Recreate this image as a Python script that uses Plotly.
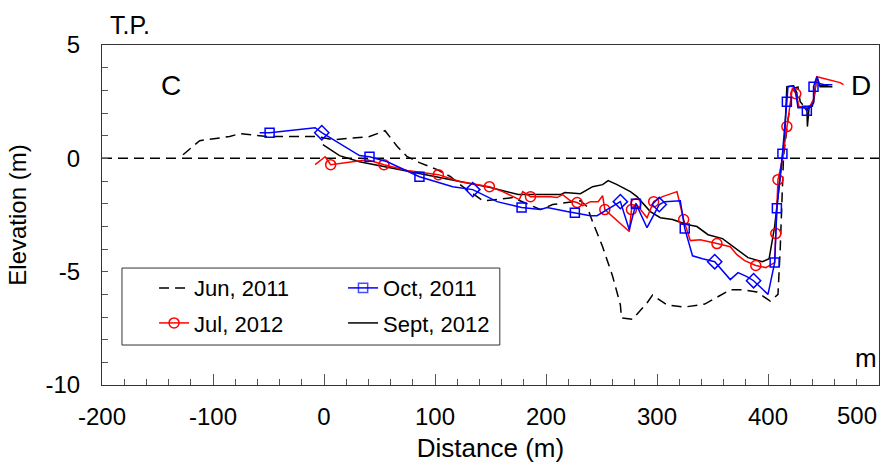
import plotly.graph_objects as go

# ---------------- data ----------------
jun2011_x = [-127, -112, -85, -76, -51, -6, 8, 41, 55, 66,
             75, 86, 102, 114, 125, 143, 156, 170, 195, 206,
             231, 237, 242, 251, 260, 267, 268, 278, 291, 296,
             309, 325, 343, 366, 377, 390, 402, 409, 411, 413,
             414, 418, 422, 424, 427, 429, 434, 440, 443, 447,
             458]
jun2011_y = [0.16, 0.78, 0.96, 1.09, 0.96, 0.96, 0.82, 0.96, 1.22, 0.52,
             0.07, -0.19, -0.50, -0.81, -1.25, -1.87, -1.82, -1.73, -2.26, -2.04,
             -1.87, -2.13, -2.80, -3.90, -5.20, -6.46, -7.04, -7.10, -6.38, -6.03,
             -6.47, -6.56, -6.43, -5.80, -5.80, -5.90, -6.30, -6.00, -4.00, -1.40,
             0.10, 1.70, 2.90, 3.10, 3.15, 2.50, 2.20, 2.30, 3.30, 3.20,
             3.20]

oct2011_x = [-58, -49, -8, -2, 32, 41, 57, 68, 86, 116,
             134, 156, 178, 195, 201, 219, 226, 240, 246, 255,
             267, 275, 281, 291, 302, 307, 321, 325, 332, 341,
             352, 366, 373, 381, 387, 400, 406, 408, 413, 417,
             418, 423, 425, 427, 433, 435, 441, 441, 444, 446,
             451, 458]
oct2011_y = [1.13, 1.13, 1.35, 1.13, 0.12, 0.07, -0.15, -0.41, -0.81, -1.25,
             -1.38, -1.91, -2.17, -2.26, -2.17, -2.35, -2.40, -2.53, -2.53, -2.26,
             -1.91, -3.15, -2.00, -3.06, -2.04, -1.91, -1.87, -3.10, -4.30, -4.43,
             -4.56, -5.35, -5.04, -5.22, -5.40, -6.00, -4.60, -2.20, 0.20, 2.50,
             3.16, 3.20, 2.90, 2.23, 2.23, 2.10, 2.45, 3.16, 3.60, 3.30,
             3.25, 3.25]
# marker kind at each surveyed point: "" = none, "s" = square, "d" = diamond
oct2011_mark = ["", "s", "", "d", "", "s", "", "", "s", "",
                "d", "", "s", "", "", "", "s", "", "", "",
                "d", "", "s", "", "d", "", "", "s", "", "",
                "d", "", "", "", "d", "", "s", "s", "s", "s",
                "", "", "", "", "", "s", "", "s", "", "",
                "", ""]

jul2012_x = [-8, 1, 6, 21, 39, 54, 75, 103, 123, 149,
             161, 176, 179, 186, 204, 210, 215, 222, 228, 233,
             240, 247, 251, 253, 275, 277, 281, 291, 297, 305,
             318, 324, 330, 339, 345, 354, 366, 372, 379, 389,
             398, 406, 407, 409, 413, 417, 420, 422, 425, 428,
             434, 438, 441, 444, 465, 468]
jul2012_y = [-0.28, 0.07, -0.28, -0.19, -0.06, -0.28, -0.54, -0.72, -1.03, -1.25,
             -1.47, -1.82, -1.47, -1.69, -1.69, -1.73, -1.60, -1.87, -1.95, -2.09,
             -1.91, -1.91, -1.65, -2.26, -3.23, -2.26, -2.00, -2.62, -1.91, -1.69,
             -1.47, -2.70, -3.63, -3.59, -3.67, -3.76, -3.90, -4.25, -4.51, -4.73,
             -4.82, -4.60, -3.32, -0.94, -0.06, 1.40, 2.59, 3.12, 2.85, 2.28,
             2.23, 2.32, 2.60, 3.60, 3.34, 3.25]
# 1 = circle marker drawn at that point
jul2012_mark = [0, 0, 1, 0, 0, 1, 0, 1, 0, 1,
                0, 0, 0, 1, 0, 0, 0, 0, 1, 0,
                0, 0, 0, 1, 0, 1, 1, 0, 1, 0,
                0, 1, 0, 0, 0, 1, 0, 0, 0, 1,
                0, 0, 1, 1, 0, 1, 0, 0, 1, 0,
                0, 0, 0, 0, 0, 0]

sep2012_x = [-1, 14, 32, 59, 91, 120, 150, 175, 195, 213,
             217, 231, 242, 251, 256, 264, 276, 282, 294, 303,
             314, 327, 336, 346, 359, 372, 382, 395, 401, 406,
             413, 415, 417, 423, 426, 427, 435, 435.5, 437, 441,
             444, 447, 458]
sep2012_y = [0.60, 0.12, -0.15, -0.41, -0.72, -1.03, -1.29, -1.60, -1.60, -1.60,
             -1.51, -1.56, -1.25, -1.16, -0.98, -1.16, -1.47, -1.69, -2.35, -2.62,
             -2.70, -2.92, -3.01, -3.37, -3.54, -4.03, -4.38, -4.56, -4.43, -3.00,
             -0.06, 0.96, 3.16, 3.20, 2.90, 2.28, 2.23, 1.40, 2.23, 2.45,
             3.60, 3.16, 3.16]

x_ticks = [-200, -100, 0, 100, 200, 300, 400, 500]
x_tick_labels = ["-200", "-100", "0", "100", "200", "300", "400", "500"]
y_ticks = [-10, -5, 0, 5]

# ---------------- figure ----------------
FONT = "Arial, Liberation Sans, sans-serif"
BLUE = "#0000FF"
RED = "#FF0000"

oct_sym = ["diamond-open" if m == "d" else "square-open" for m in oct2011_mark]
oct_size = [11 if m == "d" else 9 for m in oct2011_mark]
oct_sel = [i for i, m in enumerate(oct2011_mark) if m]
jul_sel = [i for i, m in enumerate(jul2012_mark) if m]

# the last x label sits flush against the figure's right edge (drawn to the
# left of its tick), so it is placed as a right-anchored annotation
x_tick_text = list(x_tick_labels[:-1]) + [""]

fig = go.Figure()

fig.add_trace(go.Scatter(
    x=jun2011_x, y=jun2011_y, mode="lines", name="Jun, 2011",
    line=dict(color="black", width=1.5, dash="10px,6px"),
    legend="legend", legendrank=1))

fig.add_trace(go.Scatter(
    x=sep2012_x, y=sep2012_y, mode="lines", name="Sept, 2012",
    line=dict(color="black", width=1.5),
    legend="legend2", legendrank=2))

fig.add_trace(go.Scatter(
    x=jul2012_x, y=jul2012_y, mode="lines+markers", name="Jul, 2012",
    line=dict(color=RED, width=1.5),
    marker=dict(symbol="circle-open", size=10, color=RED,
                line=dict(color=RED, width=1.5)),
    selectedpoints=jul_sel,
    selected=dict(marker=dict(opacity=1)),
    unselected=dict(marker=dict(opacity=0)),
    legend="legend2", legendrank=1))

fig.add_trace(go.Scatter(
    x=oct2011_x, y=oct2011_y, mode="lines+markers", name="Oct, 2011",
    line=dict(color=BLUE, width=1.5),
    marker=dict(symbol=oct_sym, size=oct_size, color=BLUE,
                line=dict(color=BLUE, width=1.5)),
    selectedpoints=oct_sel,
    selected=dict(marker=dict(opacity=1)),
    unselected=dict(marker=dict(opacity=0)),
    legend="legend", legendrank=2))

# zero reference line
fig.add_shape(type="line", xref="paper", yref="y", x0=0, x1=1, y0=0, y1=0,
              line=dict(color="black", width=1.5, dash="10px,6px"), layer="below")

# legend frame
fig.add_shape(type="rect", xref="paper", yref="paper",
              x0=0.0257, x1=0.512, y0=0.1176, y1=0.344,
              line=dict(color="#333333", width=1), fillcolor="white", layer="below")

leg_common = dict(orientation="h", xanchor="left", yanchor="middle",
                  bgcolor="rgba(0,0,0,0)", borderwidth=0,
                  font=dict(family=FONT, size=22, color="black"),
                  entrywidth=144, entrywidthmode="pixels",
                  traceorder="normal")

fig.update_layout(
    width=882, height=464,
    margin=dict(l=102, r=3, t=45, b=79, autoexpand=False),
    paper_bgcolor="white", plot_bgcolor="white",
    font=dict(family=FONT, size=24, color="black"),
    legend=dict(x=0.067, y=0.285, **leg_common),
    legend2=dict(x=0.067, y=0.182, **leg_common),
    annotations=[
        dict(text="T.P.", xref="paper", yref="paper", x=0.008, y=1.06,
             xanchor="left", yanchor="middle", showarrow=False,
             font=dict(family=FONT, size=25)),
        dict(text="C", xref="x", yref="y", x=-138, y=3.2,
             xanchor="center", yanchor="middle", showarrow=False,
             font=dict(family=FONT, size=28)),
        dict(text="D", xref="x", yref="y", x=484, y=3.2,
             xanchor="center", yanchor="middle", showarrow=False,
             font=dict(family=FONT, size=28)),
        dict(text="m", xref="paper", yref="y", x=1.0, y=-8.8,
             xanchor="right", yanchor="middle", showarrow=False,
             font=dict(family=FONT, size=26)),
        dict(text=x_tick_labels[-1], xref="paper", yref="paper", x=1.0, y=-0.09,
             xanchor="right", yanchor="middle", showarrow=False,
             font=dict(family=FONT, size=24)),
    ],
)

fig.update_xaxes(
    range=[-200, 500], tickvals=x_ticks, ticktext=x_tick_text,
    ticks="inside", ticklen=11, tickwidth=1, tickcolor="#555555",
    minor=dict(dtick=20, tick0=0, ticks="inside", ticklen=6, tickcolor="#555555", tickwidth=1),
    showline=True, linecolor="#333333", linewidth=1, mirror=True,
    showgrid=False, zeroline=False, ticklabelstandoff=10, automargin=False,
    title=dict(text="Distance (m)", font=dict(family=FONT, size=26), standoff=10),
    tickfont=dict(family=FONT, size=24),
)
fig.update_yaxes(
    range=[-10, 5], tickvals=y_ticks, ticktext=[str(v) for v in y_ticks],
    ticks="inside", ticklen=6, tickwidth=1, tickcolor="#555555",
    minor=dict(dtick=1, tick0=0, ticks="inside", ticklen=6, tickcolor="#555555", tickwidth=1),
    showline=True, linecolor="#333333", linewidth=1, mirror=True,
    showgrid=False, zeroline=False, ticklabelstandoff=16, automargin=False,
    title=dict(text="Elevation (m)", font=dict(family=FONT, size=24), standoff=12),
    tickfont=dict(family=FONT, size=24),
)

fig.write_html("out.html")
